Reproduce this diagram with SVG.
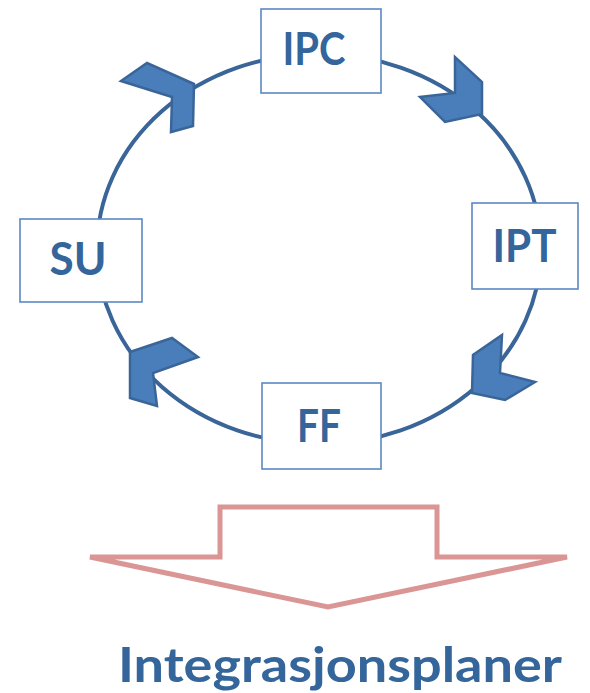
<svg xmlns="http://www.w3.org/2000/svg" width="590" height="693" viewBox="0 0 590 693">
<style>
.ring{fill:none;stroke:#3a6599;stroke-width:4}
.chev{fill:#4a7ebb;stroke:#3a6599;stroke-width:2.5;stroke-linejoin:miter}
.box{fill:#ffffff;stroke:#5b88c2;stroke-width:1.6}
.lbl{font-family:Lato,"Open Sans","Liberation Sans",sans-serif;font-weight:bold;fill:#34659b;text-anchor:middle}
.big{fill:#ffffff;stroke:#d99694;stroke-width:5;stroke-linejoin:miter}
</style>
<rect width="590" height="693" fill="#ffffff"/>
<g id="connectors">
<ellipse class="ring" cx="319" cy="249" rx="222" ry="195"/>
<polygon class="chev" points="194,84 147,63 121,81 172,97 171,132 193,126"/>
<polygon class="chev" points="482,114 482,82 455,57 455,93 420,97 445,122"/>
<polygon class="chev" points="472,393 473,355 502,335 500,373 535,382 505,400"/>
<polygon class="chev" points="130,352 172,338 198,357 153,373 157,406 130,398"/>
</g>
<g id="IPC">
<rect class="box" x="261" y="9" width="120" height="84"/>
<text class="lbl" x="314" y="65" font-size="46" textLength="63" lengthAdjust="spacingAndGlyphs">IPC</text>
</g>
<g id="IPT">
<rect class="box" x="472" y="203" width="106" height="86"/>
<text class="lbl" x="524.5" y="262" font-size="46" textLength="64" lengthAdjust="spacingAndGlyphs">IPT</text>
</g>
<g id="FF">
<rect class="box" x="262" y="383" width="119" height="86"/>
<text class="lbl" x="319" y="442" font-size="46" textLength="44" lengthAdjust="spacingAndGlyphs">FF</text>
</g>
<g id="SU">
<rect class="box" x="20" y="219" width="122" height="83"/>
<text class="lbl" x="78" y="275" font-size="46" textLength="57" lengthAdjust="spacingAndGlyphs">SU</text>
</g>
<g id="Integrasjonsplaner">
<polygon class="big" points="220,507 437,507 437,557 567,557 328,607 90,557 220,557"/>
<text class="lbl" x="340" y="682" font-size="48" textLength="444" lengthAdjust="spacingAndGlyphs">Integrasjonsplaner</text>
</g>
</svg>
